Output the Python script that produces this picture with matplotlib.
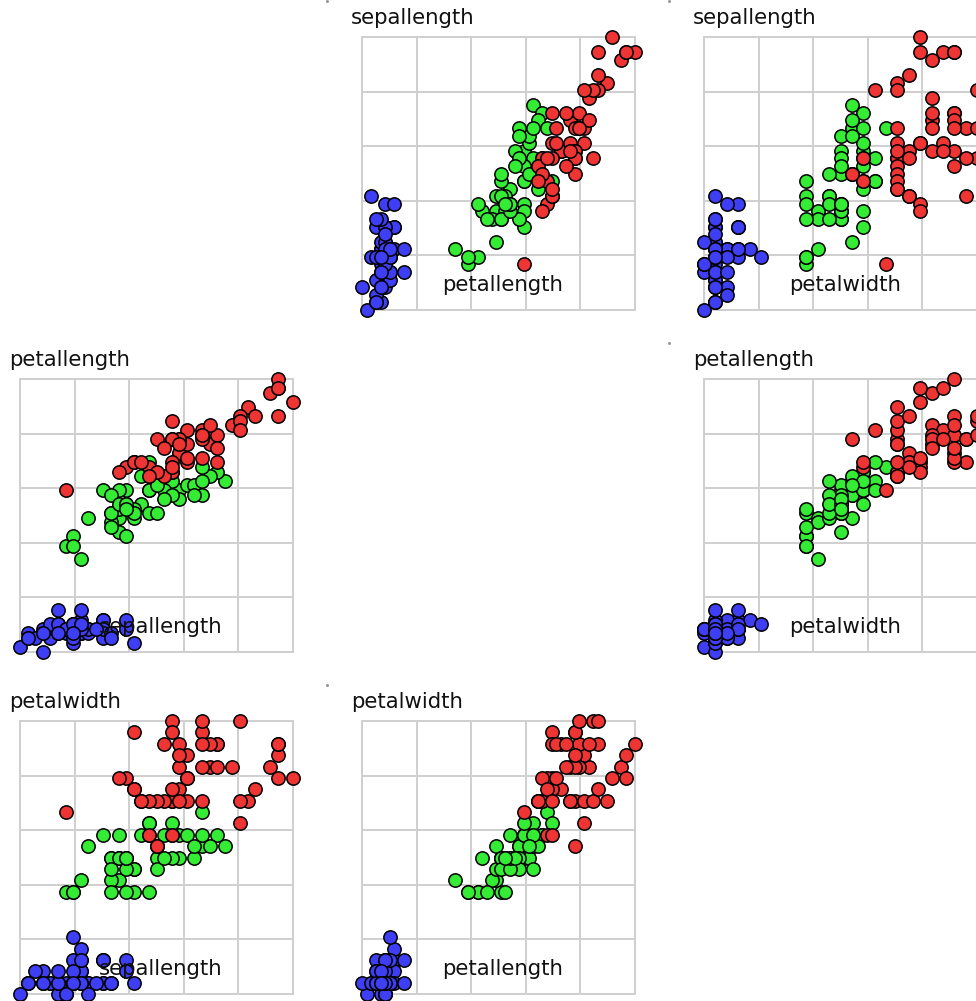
import numpy as np
import matplotlib
matplotlib.use("Agg")
import matplotlib.pyplot as plt

# iris measurements (setosa, versicolor, virginica, 50 each)
sepallength = [5.1, 4.9, 4.7, 4.6, 5.0, 5.4, 4.6, 5.0, 4.4, 4.9, 5.4, 4.8, 4.8, 4.3, 5.8, 5.7, 5.4, 5.1, 5.7, 5.1,
               5.4, 5.1, 4.6, 5.1, 4.8, 5.0, 5.0, 5.2, 5.2, 4.7, 4.8, 5.4, 5.2, 5.5, 4.9, 5.0, 5.5, 4.9, 4.4, 5.1,
               5.0, 4.5, 4.4, 5.0, 5.1, 4.8, 5.1, 4.6, 5.3, 5.0,
               7.0, 6.4, 6.9, 5.5, 6.5, 5.7, 6.3, 4.9, 6.6, 5.2, 5.0, 5.9, 6.0, 6.1, 5.6, 6.7, 5.6, 5.8, 6.2, 5.6,
               5.9, 6.1, 6.3, 6.1, 6.4, 6.6, 6.8, 6.7, 6.0, 5.7, 5.5, 5.5, 5.8, 6.0, 5.4, 6.0, 6.7, 6.3, 5.6, 5.5,
               5.5, 6.1, 5.8, 5.0, 5.6, 5.7, 5.7, 6.2, 5.1, 5.7,
               6.3, 5.8, 7.1, 6.3, 6.5, 7.6, 4.9, 7.3, 6.7, 7.2, 6.5, 6.4, 6.8, 5.7, 5.8, 6.4, 6.5, 7.7, 7.7, 6.0,
               6.9, 5.6, 7.7, 6.3, 6.7, 7.2, 6.2, 6.1, 6.4, 7.2, 7.4, 7.9, 6.4, 6.3, 6.1, 7.7, 6.3, 6.4, 6.0, 6.9,
               6.7, 6.9, 5.8, 6.8, 6.7, 6.7, 6.3, 6.5, 6.2, 5.9]
petallength = [1.4, 1.4, 1.3, 1.5, 1.4, 1.7, 1.4, 1.5, 1.4, 1.5, 1.5, 1.6, 1.4, 1.1, 1.2, 1.5, 1.3, 1.4, 1.7, 1.5,
               1.7, 1.5, 1.0, 1.7, 1.9, 1.6, 1.6, 1.5, 1.4, 1.6, 1.6, 1.5, 1.5, 1.4, 1.5, 1.2, 1.3, 1.5, 1.3, 1.5,
               1.3, 1.3, 1.3, 1.6, 1.9, 1.4, 1.6, 1.4, 1.5, 1.4,
               4.7, 4.5, 4.9, 4.0, 4.6, 4.5, 4.7, 3.3, 4.6, 3.9, 3.5, 4.2, 4.0, 4.7, 3.6, 4.4, 4.5, 4.1, 4.5, 3.9,
               4.8, 4.0, 4.9, 4.7, 4.3, 4.4, 4.8, 5.0, 4.5, 3.5, 3.8, 3.7, 3.9, 5.1, 4.5, 4.5, 4.7, 4.4, 4.1, 4.0,
               4.4, 4.6, 4.0, 3.3, 4.2, 4.2, 4.2, 4.3, 3.0, 4.1,
               6.0, 5.1, 5.9, 5.6, 5.8, 6.6, 4.5, 6.3, 5.8, 6.1, 5.1, 5.3, 5.5, 5.0, 5.1, 5.3, 5.5, 6.7, 6.9, 5.0,
               5.7, 4.9, 6.7, 4.9, 5.7, 6.0, 4.8, 4.9, 5.6, 5.8, 6.1, 6.4, 5.6, 5.1, 5.6, 6.1, 5.6, 5.5, 4.8, 5.4,
               5.6, 5.1, 5.1, 5.9, 5.7, 5.2, 5.0, 5.2, 5.4, 5.1]
petalwidth = [0.2, 0.2, 0.2, 0.2, 0.2, 0.4, 0.3, 0.2, 0.2, 0.1, 0.2, 0.2, 0.1, 0.1, 0.2, 0.4, 0.4, 0.3, 0.3, 0.3,
              0.2, 0.4, 0.2, 0.5, 0.2, 0.2, 0.4, 0.2, 0.2, 0.2, 0.2, 0.4, 0.1, 0.2, 0.1, 0.2, 0.2, 0.1, 0.2, 0.2,
              0.3, 0.3, 0.2, 0.6, 0.4, 0.3, 0.2, 0.2, 0.2, 0.2,
              1.4, 1.5, 1.5, 1.3, 1.5, 1.3, 1.6, 1.0, 1.3, 1.4, 1.0, 1.5, 1.0, 1.4, 1.3, 1.4, 1.5, 1.0, 1.5, 1.1,
              1.8, 1.3, 1.5, 1.2, 1.3, 1.4, 1.4, 1.7, 1.5, 1.0, 1.1, 1.0, 1.2, 1.6, 1.5, 1.6, 1.5, 1.3, 1.3, 1.3,
              1.2, 1.4, 1.2, 1.0, 1.3, 1.2, 1.3, 1.3, 1.1, 1.3,
              2.5, 1.9, 2.1, 1.8, 2.2, 2.1, 1.7, 1.8, 1.8, 2.5, 2.0, 1.9, 2.1, 2.0, 2.4, 2.3, 1.8, 2.2, 2.3, 1.5,
              2.3, 2.0, 2.0, 1.8, 2.1, 1.8, 1.8, 1.8, 2.1, 1.6, 1.9, 2.0, 2.2, 1.5, 1.4, 2.3, 2.4, 1.8, 1.8, 2.1,
              2.4, 2.3, 1.9, 2.3, 2.5, 2.3, 1.9, 2.0, 2.3, 1.8]
species = ["setosa"] * 50 + ["versicolor"] * 50 + ["virginica"] * 50

traits = ["sepallength", "petallength", "petalwidth"]
colors = {"setosa": "#3e3ef4", "versicolor": "#35ec35", "virginica": "#ef3434"}

data = {"sepallength": np.array(sepallength),
        "petallength": np.array(petallength),
        "petalwidth": np.array(petalwidth)}
species = np.array(species)

W, H = 976, 1001
size = 273.0
step = 342.0
fig = plt.figure(figsize=(W / 100, H / 100), dpi=100)

for row, ytrait in enumerate(traits):
    for col, xtrait in enumerate(traits):
        if row == col:
            continue
        left = 20 + step * col
        top = 37 + step * row
        ax = fig.add_axes([left / W, 1 - (top + size) / H, size / W, size / H])
        xv = data[xtrait]
        yv = data[ytrait]
        ax.set_xlim(xv.min(), xv.max())
        ax.set_ylim(yv.min(), yv.max())
        ax.set_xticks(np.linspace(xv.min(), xv.max(), 6))
        ax.set_yticks(np.linspace(yv.min(), yv.max(), 6))
        ax.tick_params(length=0, labelbottom=False, labelleft=False)
        ax.grid(True, color="#cfcfcf", lw=1.4)
        for s in ax.spines.values():
            s.set_color("#cfcfcf")
            s.set_linewidth(1.4)
        ax.set_axisbelow(True)
        for sp in ["setosa", "versicolor", "virginica"]:
            m = species == sp
            ax.scatter(xv[m], yv[m], s=92, c=colors[sp], edgecolors="black",
                       linewidths=1.1, clip_on=False, zorder=3)
        ax.text(-11 / size, 1 + 13.5 / size, ytrait, transform=ax.transAxes,
                ha="left", va="baseline", fontsize=15.3, color="#111111")
        ax.text(0.515, 19 / size, xtrait, transform=ax.transAxes,
                ha="center", va="baseline", fontsize=15.3, color="#111111", zorder=4)
        ax.plot([-35 / size], [1 + 36 / size], marker="o", ms=1.2, color="#999999",
                transform=ax.transAxes, clip_on=False)

fig.savefig("out.png", dpi=100)
